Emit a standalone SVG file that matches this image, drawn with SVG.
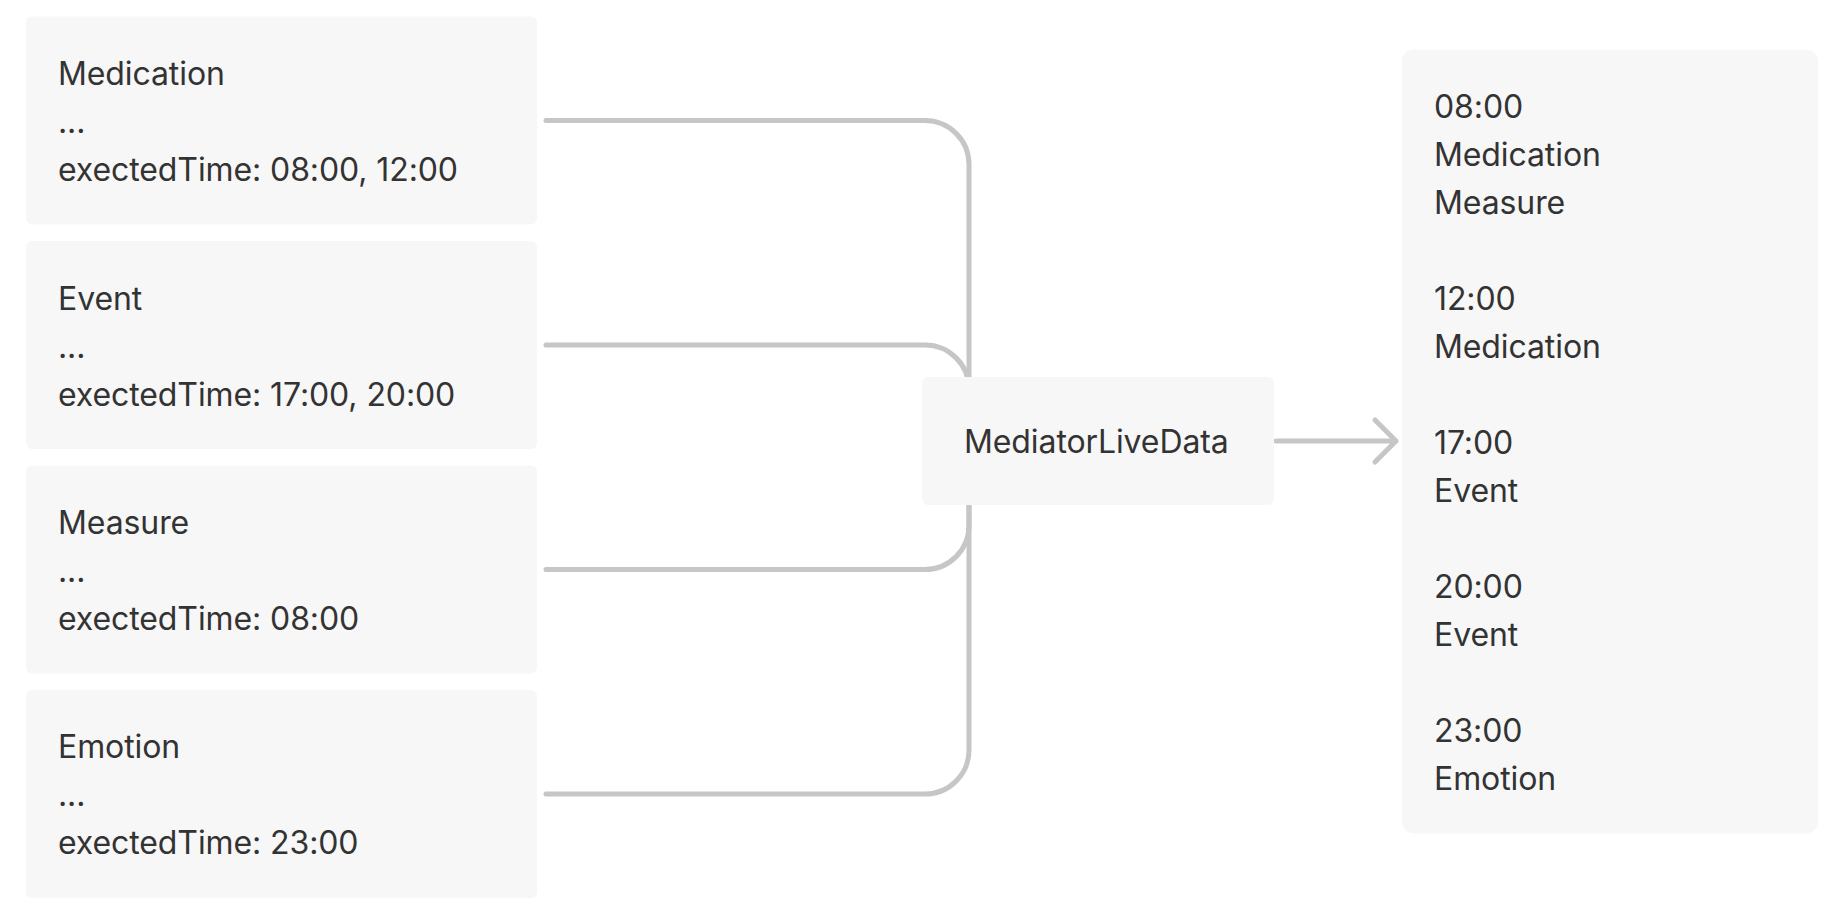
<svg xmlns="http://www.w3.org/2000/svg" width="1843" height="922" viewBox="0 0 1843 922">
<style>
.box{fill:#f7f7f7;}
.t{font-family:Inter,"Noto Sans","Liberation Sans",sans-serif;font-size:32px;letter-spacing:-0.1px;fill:#333333;}
.c{fill:none;stroke:#c6c6c6;stroke-width:5;stroke-linecap:round;stroke-linejoin:round;}
</style>
<rect width="1843" height="922" fill="#ffffff"/>
<g id="connectors">
<path class="c" d="M546,120.5 H925 A44,44 0 0 1 969,164.5 V441"/>
<path class="c" d="M546,345 H925 A44,44 0 0 1 969,389 V441"/>
<path class="c" d="M546,569.5 H925 A44,44 0 0 0 969,525.5 V441"/>
<path class="c" d="M546,794 H925 A44,44 0 0 0 969,750 V441"/>
<path class="c" d="M1276,441 H1396 M1375,420 L1396,441 L1375,462"/>
</g>
<g id="medication">
<rect class="box" x="26" y="16.5" width="511" height="208" rx="6"/>
<text class="t" x="58" y="85">Medication</text>
<text class="t" x="58" y="133">...</text>
<text class="t" x="58" y="181">exectedTime: 08:00, 12:00</text>
</g>
<g id="event">
<rect class="box" x="26" y="241" width="511" height="208" rx="6"/>
<text class="t" x="58" y="309.5">Event</text>
<text class="t" x="58" y="357.5">...</text>
<text class="t" x="58" y="405.5">exectedTime: 17:00, 20:00</text>
</g>
<g id="measure">
<rect class="box" x="26" y="465.5" width="511" height="208" rx="6"/>
<text class="t" x="58" y="533.5">Measure</text>
<text class="t" x="58" y="581.5">...</text>
<text class="t" x="58" y="629.5">exectedTime: 08:00</text>
</g>
<g id="emotion">
<rect class="box" x="26" y="690" width="511" height="208" rx="6"/>
<text class="t" x="58" y="757.5">Emotion</text>
<text class="t" x="58" y="805.5">...</text>
<text class="t" x="58" y="853.5">exectedTime: 23:00</text>
</g>
<g id="mediator">
<rect class="box" x="922" y="377" width="352" height="128" rx="6"/>
<text class="t" x="964" y="452.6">MediatorLiveData</text>
</g>
<g id="timeline">
<rect class="box" x="1402" y="49.5" width="416" height="784" rx="12"/>
<text class="t" x="1434" y="117.7">08:00</text>
<text class="t" x="1434" y="165.7">Medication</text>
<text class="t" x="1434" y="213.7">Measure</text>
<text class="t" x="1434" y="309.7">12:00</text>
<text class="t" x="1434" y="357.7">Medication</text>
<text class="t" x="1434" y="453.7">17:00</text>
<text class="t" x="1434" y="501.7">Event</text>
<text class="t" x="1434" y="597.7">20:00</text>
<text class="t" x="1434" y="645.7">Event</text>
<text class="t" x="1434" y="741.7">23:00</text>
<text class="t" x="1434" y="789.7">Emotion</text>
</g>
</svg>
